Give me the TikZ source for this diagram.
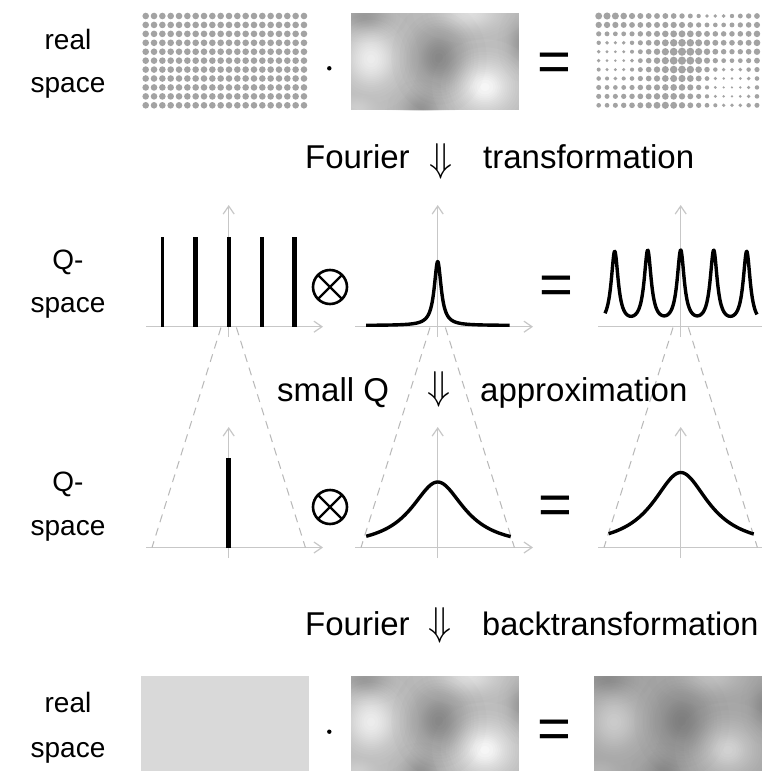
\documentclass[tikz,border=0pt]{standalone}
\usepackage{fontspec}
\setmainfont{Liberation Sans}
\usetikzlibrary{arrows.meta}

% the density pattern: {x}{y}{x radius}{y radius}{1 = light, 0 = dark}{strength}
\newcommand\imageblobs[1]{%
  #1{20}{46}{56}{62}{1}{0.75}%
  #1{134}{74}{62}{56}{1}{0.9}%
  #1{118}{0}{66}{36}{1}{0.55}%
  #1{88}{45}{56}{66}{0}{0.22}%
  #1{70}{97}{40}{36}{0}{0.12}%
  #1{14}{4}{50}{30}{0}{0.14}%
  #1{172}{30}{30}{46}{0}{0.15}%
  #1{6}{97}{40}{30}{1}{0.3}%
}
% grey value of the pattern at (\dotx,\doty), accumulated in \Gval
\newcommand\blobstep[6]{%
  \pgfmathsetmacro\blobt{min(veclen((\dotx-#1)/#3,(\doty-#2)/#4),2)}%
  \pgfmathsetmacro\Gval{\Gval+#6*exp(-(\blobt/0.45)^2)*(#5-\Gval)}}
% one soft blob, built from nested translucent ellipses (Gaussian profile)
\newcommand\blobdraw[6]{%
  \ifnum#5=1 \def\blobcolor{white}\else\def\blobcolor{black}\fi
  \foreach \k in {1,...,18}{%
    \pgfmathsetmacro\blobrad{0.45*sqrt(-ln((\k-0.5)/18))}%
    \pgfmathsetmacro\blobop{(#6/18)/(1-#6*(\k-1)/18)}%
    \fill[fill=\blobcolor, fill opacity=\blobop]
      (#1,#2) ellipse [x radius={#3*\blobrad}, y radius={#4*\blobrad}];}}
% blurred density image with top-left corner (#1,#2)
\newcommand\blurimage[2]{%
  \begin{scope}[shift={(#1,#2)}]
    \clip (0,0) rectangle (168,97);
    \fill[black!27] (0,0) rectangle (168,97);
    \imageblobs\blobdraw
  \end{scope}}
% the thin double arrow between the rows
\newcommand\downdouble{\resizebox{23pt}{28pt}{$\Downarrow$}}

\begin{document}
\begin{tikzpicture}[x=1pt,y=-1pt,
  lbl/.style={font=\fontsize{28}{34}\selectfont, inner sep=0pt, anchor=base},
  captext/.style={font=\fontsize{33}{40}\selectfont, inner sep=0pt, anchor=base west},
  arrowtext/.style={inner sep=0pt, anchor=center},
  eqsign/.style={font=\fontsize{58}{60}\selectfont, inner sep=0pt},
  mdot/.style={circle, fill=black, inner sep=0pt, minimum size=4.4pt},
  otimesop/.style={circle, draw=black, line width=2.6pt, inner sep=0pt, outer sep=0pt, minimum size=34pt},
  axisline/.style={draw=black!22, line width=1.2pt},
  axisarrow/.style={axisline, -{Straight Barb[length=8pt,width=11pt]}},
  zoomline/.style={draw=black!28, line width=1pt, dash pattern=on 8pt off 6pt},
  peakbar/.style={draw=black, line width=4pt},
  lineshape/.style={draw=black, line width=3.4pt, line join=round},
  dotgray/.style={fill=black!36}
]
\fill[white] (0,0) rectangle (762,771);
\useasboundingbox (0,0) rectangle (762,771);

% ---------- row 1: real space ----------
\node[lbl] (r1a) at (68,49) {real};
\node[lbl] (r1b) at (68,92) {space};
\foreach \i in {0,...,19}{\foreach \j in {0,...,10}{
  \fill[dotgray] ({145.7+8.33*\i},{16+8.93*\j}) circle (3.3);}}
\node[mdot] (dot1) at (329.3,68.3) {};
\blurimage{351}{13}
\node[eqsign] (eq1) at (554,67) {=};
\foreach \i in {0,...,19}{\foreach \j in {0,...,10}{
  \pgfmathsetmacro\dotx{3.7+8.33*\i}\pgfmathsetmacro\doty{3+8.93*\j}%
  \def\Gval{0.73}\imageblobs\blobstep
  \pgfmathsetmacro\dotr{max(1.2,1.3+2.6*(0.94-\Gval)/0.34)}%
  \fill[dotgray] ({595+\dotx},{13+\doty}) circle (\dotr);}}

\node[captext] (f1) at (305,168) {Fourier};
\node[arrowtext] (a1) at (441,161) {\downdouble};
\node[captext] (t1) at (483,168) {transformation};

% ---------- axes of rows 2 and 3 ----------
\foreach \yb/\yt/\yl in {326.7/205/337, 547.5/427/558}{
  \draw[axisarrow] (146,\yb) -- (323,\yb);
  \draw[axisarrow] (228.7,\yl) -- (228.7,\yt);
  \draw[axisarrow] (355,\yb) -- (533,\yb);
  \draw[axisarrow] (437.7,\yl) -- (437.7,\yt);
  \draw[axisline] (598,\yb) -- (762,\yb);
  \draw[axisarrow] (680.7,\yl) -- (680.7,\yt);
}
% zoom lines from the small-Q region down to the approximated plots
\foreach \cx in {228.7,437.7,680.7}{
  \draw[zoomline] ({\cx-7.7},327.5) -- ({\cx-76.7},547.5);
  \draw[zoomline] ({\cx+7.7},327.5) -- ({\cx+76.7},547.5);
}

% ---------- row 2: Q-space ----------
\node[lbl] (r2a) at (68,269) {Q-};
\node[lbl] (r2b) at (68,312) {space};
\foreach \bx/\bw in {162.3/3.6, 195.7/4.6, 228.7/4.2, 261.7/3.6, 294.7/4.6}{
  \draw[peakbar, line width=\bw pt] (\bx,326.7) -- (\bx,237);}
\node[otimesop] (ot1) at (330,287) {};
\draw[line width=2.4pt] (ot1.north west) -- (ot1.south east);
\draw[line width=2.4pt] (ot1.north east) -- (ot1.south west);
\draw[lineshape] plot[domain=-71.5:72, samples=320]
  ({437.7+\x},{325.5-64/(1+(\x/4.2)^2)});
\node[eqsign] (eq2) at (556,290) {=};
\draw[lineshape] plot[domain=-75.7:76.3, samples=600]
  ({680.7+\x},{326.5-73.5*(1/(1+((\x+66)/4.3)^2)+1/(1+((\x+33)/4.3)^2)
     +1/(1+(\x/4.3)^2)+1/(1+((\x-33)/4.3)^2)+1/(1+((\x-66)/4.3)^2))});

\node[captext] (s2) at (277,401) {small Q};
\node[arrowtext] (a2) at (439,389) {\downdouble};
\node[captext] (t2) at (480,401) {approximation};

% ---------- row 3: Q-space, small Q ----------
\node[lbl] (r3a) at (68,491) {Q-};
\node[lbl] (r3b) at (68,535) {space};
\draw[peakbar, line width=5pt] (228.7,548) -- (228.7,458);
\node[otimesop] (ot2) at (330,507) {};
\draw[line width=2.4pt] (ot2.north west) -- (ot2.south east);
\draw[line width=2.4pt] (ot2.north east) -- (ot2.south west);
\draw[lineshape] plot[domain=-71.5:73, samples=200]
  ({437.7+\x},{547.5-65.5/(1+(\x/32.6)^2)});
\node[eqsign] (eq3) at (555,510.5) {=};
\draw[lineshape] plot[domain=-72:73, samples=200]
  ({680.7+\x},{547.5-75/(1+(\x/34.2)^2)});

\node[captext] (f3) at (305,635) {Fourier};
\node[arrowtext] (a3) at (440,625) {\downdouble};
\node[captext, font=\fontsize{32.5}{40}\selectfont] (t3) at (482,635) {backtransformation};

% ---------- row 4: real space ----------
\node[lbl] (r4a) at (68,712) {real};
\node[lbl] (r4b) at (68,757) {space};
\fill[black!15] (141,676) rectangle (309,771);
\node[mdot] (dot2) at (329.3,731.7) {};
\blurimage{351}{676}
\node[eqsign] (eq4) at (554,734) {=};
\blurimage{594}{676}
\fill[black!60, fill opacity=0.25] (594,676) rectangle (762,771);
\end{tikzpicture}
\end{document}
